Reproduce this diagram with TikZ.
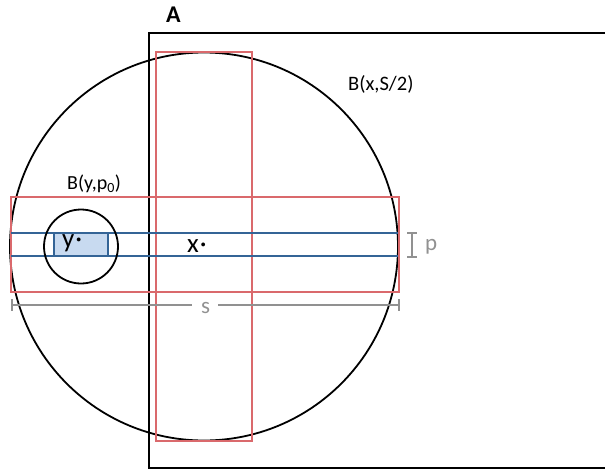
\documentclass[tikz,border=0pt]{standalone}
\usepackage{fontspec}
\setmainfont{Carlito}
\definecolor{redline}{RGB}{218,105,108}
\definecolor{blueline}{RGB}{52,100,150}
\definecolor{bluefill}{RGB}{200,218,240}
\definecolor{grayline}{RGB}{145,145,145}
\tikzset{
  blk/.style={draw=black, line width=1.8pt},
  redbox/.style={draw=redline, line width=1.8pt},
  blueln/.style={draw=blueline, line width=1.8pt},
  grayln/.style={draw=grayline, line width=2pt},
  lbl/.style={inner sep=0pt, anchor=base west},
}
\begin{document}
\begin{tikzpicture}[x=1pt,y=-1pt]
\useasboundingbox (0,0) rectangle (605,472);
% big circle
\draw[blk] (204,246.5) circle (194);
% set A (open on the right)
\draw[blk] (605,33) -- (149,33) -- (149,468) -- (605,468);
% red rectangles
\draw[redbox] (156,52) rectangle (252,441);
\draw[redbox] (11,197) rectangle (399,292);
% small square
\fill[bluefill] (54,233) rectangle (108,256);
\draw[blueline, line width=1.2pt] (54,233) rectangle (108,256);
% blue strip lines
\coordinate (bl1) at (11,233);
\coordinate (br1) at (398,233);
\coordinate (bl2) at (11,256);
\coordinate (br2) at (398,256);
\draw[blueln] (bl1) -- (br1);
\draw[blueln] (bl2) -- (br2);
% small circle
\draw[blk] (81,246.5) circle (37);
% s dimension
\coordinate (s1) at (12,305);
\coordinate (s2) at (399,305);
\node[lbl, text=grayline, font=\fontsize{23}{25}\selectfont] (s) at (201,313) {s};
\draw[grayln] (s1) -- (192,305);
\draw[grayln] (218,305) -- (s2);
\draw[grayln] (12,299) -- (12,311);
\draw[grayln] (399,299) -- (399,311);
% p dimension
\coordinate (p1) at (412,233);
\coordinate (p2) at (412,257);
\draw[grayln] (p1) -- (p2);
\draw[grayln] (407,233) -- (417,233);
\draw[grayln] (407,257) -- (417,257);
\node[lbl, text=grayline, font=\fontsize{23}{25}\selectfont] (p) at (425,250) {p};
% labels
\node[lbl, font=\fontsize{24}{26}\selectfont\bfseries] (A) at (166,22) {A};
\node[lbl, font=\fontsize{20.5}{22}\selectfont] (Bx) at (348,90) {B(x,S/2)};
\node[lbl, font=\fontsize{20}{22}\selectfont] (By) at (67,189) {B(y,p\textsubscript{0})};
\node[lbl, font=\fontsize{27}{29}\selectfont] (y) at (62,247) {y\kern1pt\textperiodcentered};
\node[lbl, font=\fontsize{27}{29}\selectfont] (x) at (187,252) {x\kern1pt\textperiodcentered};
\end{tikzpicture}
\end{document}
